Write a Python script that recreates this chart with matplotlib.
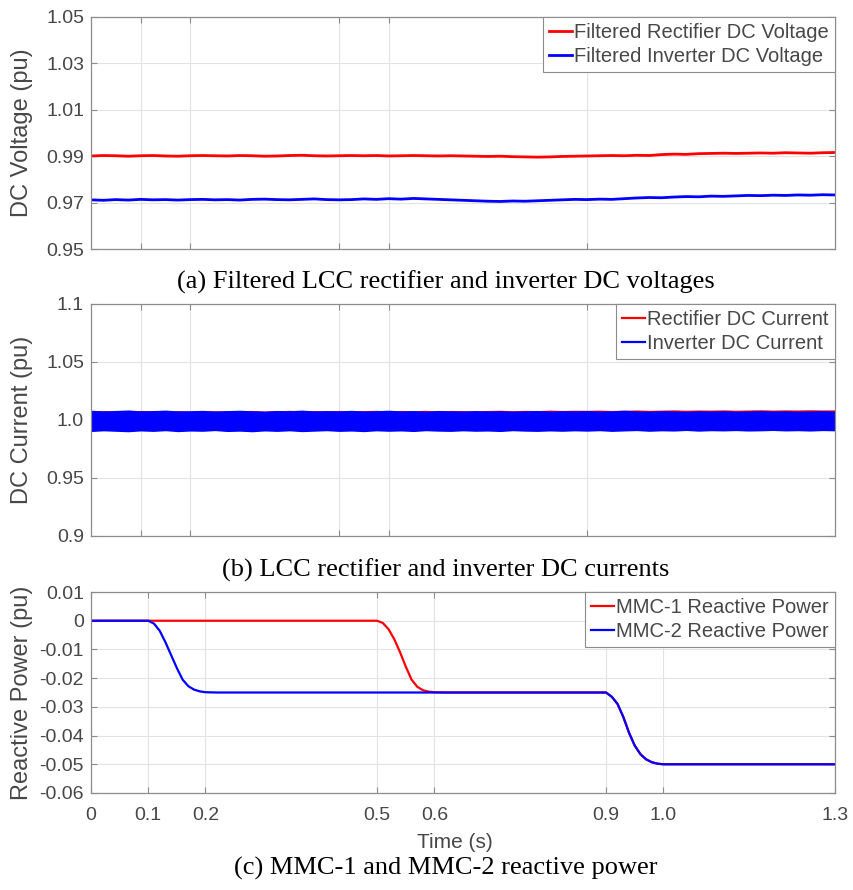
import matplotlib
matplotlib.use("Agg")
import matplotlib.pyplot as plt
import numpy as np

plt.rcParams['font.family'] = ['Liberation Sans', 'DejaVu Sans']

# ---- (a) filtered DC voltages, sampled every 0.025 s over 0..1.5 s
t_v = np.linspace(0, 1.5, 61)
rect_v = [0.9901, 0.9903, 0.9902, 0.9900, 0.9902, 0.9903, 0.9901, 0.9900, 0.9902, 0.9903,
          0.9902, 0.9901, 0.9903, 0.9902, 0.9900, 0.9901, 0.9903, 0.9904, 0.9902, 0.9901,
          0.9902, 0.9903, 0.9902, 0.9903, 0.9901, 0.9902, 0.9903, 0.9902, 0.9901, 0.9902,
          0.9901, 0.9900, 0.9899, 0.9900, 0.9898, 0.9897, 0.9896, 0.9897, 0.9899, 0.9900,
          0.9901, 0.9902, 0.9903, 0.9902, 0.9904, 0.9903, 0.9907, 0.9909, 0.9908, 0.9911,
          0.9912, 0.9913, 0.9912, 0.9913, 0.9914, 0.9913, 0.9915, 0.9914, 0.9913, 0.9915,
          0.9916]
inv_v = [0.9712, 0.9710, 0.9713, 0.9711, 0.9714, 0.9712, 0.9713, 0.9711, 0.9713, 0.9714,
         0.9712, 0.9713, 0.9711, 0.9714, 0.9715, 0.9713, 0.9712, 0.9714, 0.9716, 0.9713,
         0.9712, 0.9713, 0.9716, 0.9714, 0.9717, 0.9715, 0.9718, 0.9716, 0.9714, 0.9712,
         0.9710, 0.9708, 0.9706, 0.9705, 0.9707, 0.9706, 0.9708, 0.9710, 0.9712, 0.9714,
         0.9713, 0.9715, 0.9714, 0.9717, 0.9720, 0.9722, 0.9721, 0.9724, 0.9726, 0.9725,
         0.9728, 0.9727, 0.9729, 0.9731, 0.9730, 0.9732, 0.9731, 0.9733, 0.9732, 0.9734,
         0.9733]

# ---- (b) DC currents: ripple band envelopes, every 0.025 s
t_i = np.linspace(0, 1.5, 61)
inv_i_hi = [1.0084, 1.0078, 1.0082, 1.0086, 1.0079, 1.0081, 1.0085, 1.0078, 1.0080, 1.0083,
            1.0077, 1.0081, 1.0084, 1.0079, 1.0076, 1.0082, 1.0080, 1.0085, 1.0078, 1.0081,
            1.0079, 1.0083, 1.0077, 1.0080, 1.0084, 1.0078, 1.0081, 1.0076, 1.0082, 1.0079,
            1.0077, 1.0081, 1.0078, 1.0080, 1.0076, 1.0079, 1.0082, 1.0077, 1.0080, 1.0078,
            1.0081, 1.0077, 1.0079, 1.0084, 1.0078, 1.0076, 1.0080, 1.0078, 1.0075, 1.0079,
            1.0077, 1.0080, 1.0076, 1.0078, 1.0081, 1.0077, 1.0079, 1.0076, 1.0078, 1.0080,
            1.0077]
inv_i_lo = [0.9900, 0.9906, 0.9902, 0.9898, 0.9905, 0.9901, 0.9907, 0.9899, 0.9904, 0.9902,
            0.9908, 0.9900, 0.9903, 0.9898, 0.9905, 0.9901, 0.9906, 0.9899, 0.9903, 0.9907,
            0.9901, 0.9904, 0.9899, 0.9906, 0.9902, 0.9905, 0.9900, 0.9907, 0.9903, 0.9901,
            0.9906, 0.9902, 0.9904, 0.9900, 0.9907, 0.9903, 0.9901, 0.9905, 0.9902, 0.9906,
            0.9903, 0.9907, 0.9901, 0.9905, 0.9908, 0.9902, 0.9906, 0.9904, 0.9909, 0.9903,
            0.9907, 0.9905, 0.9908, 0.9904, 0.9906, 0.9909, 0.9905, 0.9907, 0.9904, 0.9908,
            0.9906]
rect_i_hi = [1.0076, 1.0081, 1.0078, 1.0080, 1.0082, 1.0077, 1.0079, 1.0081, 1.0076, 1.0080,
             1.0079, 1.0078, 1.0081, 1.0082, 1.0077, 1.0080, 1.0083, 1.0079, 1.0081, 1.0078,
             1.0082, 1.0080, 1.0081, 1.0083, 1.0079, 1.0082, 1.0080, 1.0083, 1.0078, 1.0082,
             1.0081, 1.0079, 1.0082, 1.0084, 1.0080, 1.0083, 1.0081, 1.0085, 1.0082, 1.0084,
             1.0083, 1.0085, 1.0082, 1.0084, 1.0086, 1.0083, 1.0085, 1.0087, 1.0084, 1.0086,
             1.0085, 1.0087, 1.0084, 1.0086, 1.0088, 1.0085, 1.0087, 1.0086, 1.0088, 1.0086,
             1.0087]
rect_i_lo = [0.9914, 0.9910, 0.9913, 0.9916, 0.9911, 0.9914, 0.9912, 0.9915, 0.9910, 0.9913,
             0.9916, 0.9912, 0.9914, 0.9911, 0.9915, 0.9913, 0.9910, 0.9914, 0.9916, 0.9912,
             0.9914, 0.9911, 0.9915, 0.9913, 0.9916, 0.9912, 0.9914, 0.9917, 0.9913, 0.9915,
             0.9912, 0.9916, 0.9914, 0.9917, 0.9913, 0.9915, 0.9918, 0.9914, 0.9916, 0.9913,
             0.9917, 0.9915, 0.9918, 0.9914, 0.9916, 0.9919, 0.9915, 0.9917, 0.9914, 0.9918,
             0.9916, 0.9919, 0.9917, 0.9915, 0.9918, 0.9916, 0.9919, 0.9917, 0.9918, 0.9916,
             0.9918]

# ---- (c) reactive power steps
t_q1 = [0, 0.50, 0.51, 0.52, 0.53, 0.54, 0.55, 0.56, 0.57, 0.58, 0.59, 0.60, 0.62,
        0.90, 0.91, 0.92, 0.93, 0.94, 0.95, 0.96, 0.97, 0.98, 0.99, 1.00, 1.02, 1.30]
q1 = [0, 0, -0.0008, -0.003, -0.0065, -0.011, -0.016, -0.0205, -0.023, -0.0242, -0.0247,
      -0.0249, -0.025, -0.025, -0.0265, -0.029, -0.0335, -0.039, -0.0435, -0.0465, -0.0483,
      -0.0493, -0.0498, -0.0500, -0.0500, -0.0500]
t_q2 = [0, 0.10, 0.11, 0.12, 0.13, 0.14, 0.15, 0.16, 0.17, 0.18, 0.19, 0.20, 0.22,
        0.90, 0.91, 0.92, 0.93, 0.94, 0.95, 0.96, 0.97, 0.98, 0.99, 1.00, 1.02, 1.30]
q2 = [0, 0, -0.001, -0.0035, -0.0075, -0.012, -0.0165, -0.0205, -0.0228, -0.024, -0.0246,
      -0.0249, -0.025, -0.025, -0.0265, -0.029, -0.0335, -0.039, -0.0435, -0.0465, -0.0483,
      -0.0493, -0.0498, -0.0500, -0.0500, -0.0500]

xticks_top = [0.1, 0.2, 0.5, 0.6, 1.0]
xticks_c = [0, 0.1, 0.2, 0.5, 0.6, 0.9, 1.0, 1.3]
xlabels_c = ['0', '0.1', '0.2', '0.5', '0.6', '0.9', '1.0', '1.3']
yticks_a = [0.95, 0.97, 0.99, 1.01, 1.03, 1.05]
yticks_b = [0.9, 0.95, 1.0, 1.05, 1.1]
ylabels_b = ['0.9', '0.95', '1.0', '1.05', '1.1']
yticks_c = [0.01, 0, -0.01, -0.02, -0.03, -0.04, -0.05, -0.06]
ylabels_c = ['0.01', '0', '-0.01', '-0.02', '-0.03', '-0.04', '-0.05', '-0.06']

RED = '#ff0000'
BLUE = '#0000ff'
TXT = '#474747'
EDGE = '#8c8c8c'


def style(ax):
    ax.tick_params(direction='in', length=4, width=0.8, color=EDGE, labelcolor=TXT,
                   labelsize=14, top=True, right=True, pad=5)
    for s in ax.spines.values():
        s.set_color(EDGE)
        s.set_linewidth(0.9)
    ax.grid(True, color='#e3e3e3', linewidth=0.8)
    ax.set_axisbelow(True)


def legend(ax):
    leg = ax.legend(loc='upper right', fontsize=14.5, handlelength=1.15, handletextpad=0.1,
                    borderpad=0.3, labelspacing=0.25, borderaxespad=0, fancybox=False,
                    edgecolor=EDGE, framealpha=1)
    leg.get_frame().set_linewidth(0.8)
    for txt in leg.get_texts():
        txt.set_color(TXT)


fig = plt.figure(figsize=(8.54, 8.9), dpi=100)
ax1 = fig.add_axes([0.1066, 0.7202, 0.8712, 0.2607])
ax2 = fig.add_axes([0.1066, 0.3978, 0.8712, 0.2607])
ax3 = fig.add_axes([0.1066, 0.1090, 0.8712, 0.2258])

# (a)
ax1.plot(t_v, rect_v, color=RED, lw=2.0, label='Filtered Rectifier DC Voltage')
ax1.plot(t_v, inv_v, color=BLUE, lw=2.0, label='Filtered Inverter DC Voltage')
ax1.set_xlim(0, 1.5)
ax1.set_ylim(0.95, 1.05)
ax1.set_xticks(xticks_top)
ax1.set_xticklabels([])
ax1.set_yticks(yticks_a)
ax1.set_yticklabels(['%.2f' % v for v in yticks_a])
ax1.set_ylabel('DC Voltage (pu)', fontsize=17, color=TXT)
style(ax1)
legend(ax1)

# (b)
ax2.fill_between(t_i, rect_i_lo, rect_i_hi, color=RED, lw=0)
ax2.fill_between(t_i, inv_i_lo, inv_i_hi, color=BLUE, lw=0)
ax2.plot([], [], color=RED, lw=1.6, label='Rectifier DC Current')
ax2.plot([], [], color=BLUE, lw=1.6, label='Inverter DC Current')
ax2.set_xlim(0, 1.5)
ax2.set_ylim(0.9, 1.1)
ax2.set_xticks(xticks_top)
ax2.set_xticklabels([])
ax2.set_yticks(yticks_b)
ax2.set_yticklabels(ylabels_b)
ax2.set_ylabel('DC Current (pu)', fontsize=17, color=TXT)
style(ax2)
legend(ax2)

# (c)
ax3.plot(t_q1, q1, color=RED, lw=1.6, label='MMC-1 Reactive Power')
ax3.plot(t_q2, q2, color=BLUE, lw=1.6, label='MMC-2 Reactive Power')
ax3.set_xlim(0, 1.3)
ax3.set_ylim(-0.06, 0.01)
ax3.set_xticks(xticks_c)
ax3.set_xticklabels(xlabels_c)
ax3.set_yticks(yticks_c)
ax3.set_yticklabels(ylabels_c)
ax3.set_ylabel('Reactive Power (pu)', fontsize=17, color=TXT)
ax3.set_xlabel('Time (s)', fontsize=15, color=TXT)
style(ax3)
ax3.tick_params(axis='x', pad=10)
legend(ax3)

for ax in (ax1, ax2, ax3):
    ax.yaxis.set_label_coords(-0.078, 0.5)
ax3.xaxis.set_label_coords(0.489, -0.2)

cap = dict(family=['Liberation Serif', 'DejaVu Serif'], fontsize=19, color='black',
           ha='center', va='center')
fig.text(0.522, 0.683, '(a) Filtered LCC rectifier and inverter DC voltages', **cap)
fig.text(0.522, 0.3596, '(b) LCC rectifier and inverter DC currents', **cap)
fig.text(0.522, 0.0247, '(c) MMC-1 and MMC-2 reactive power', **cap)

fig.savefig('out.png', dpi=100)
